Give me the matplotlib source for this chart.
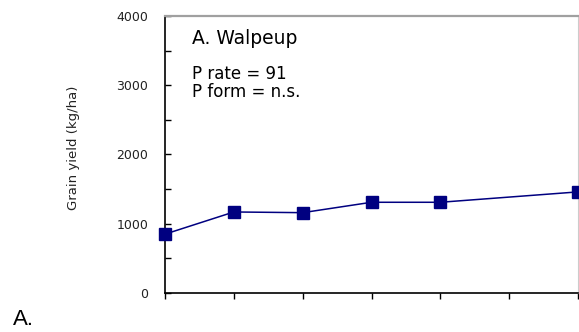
import matplotlib.pyplot as plt
from matplotlib.ticker import MultipleLocator

# P rate (x) and grain yield (y)
p_rate = [0, 10, 20, 30, 40, 60]
grain_yield = [850, 1170, 1160, 1310, 1310, 1460]
y_ticks = [0, 1000, 2000, 3000, 4000]
x_ticks = [0, 10, 20, 30, 40, 50, 60]

navy = '#000080'

fig = plt.figure(figsize=(5.79, 3.32), dpi=100)
ax = fig.add_axes([0.2850, 0.1175, 0.7133, 0.8343])

ax.plot(p_rate, grain_yield, color=navy, linewidth=1.1,
        marker='s', markersize=8, markerfacecolor=navy,
        markeredgecolor=navy, clip_on=False, zorder=3)

ax.set_xlim(0, 60)
ax.set_ylim(0, 4000)
ax.set_xticks(x_ticks)
ax.set_xticklabels([])
ax.set_yticks(y_ticks)
ax.set_yticklabels([str(v) for v in y_ticks])
ax.yaxis.set_minor_locator(MultipleLocator(500))

ax.tick_params(axis='y', which='both', direction='in', length=4, width=1,
               pad=12, labelsize=9, labelcolor='#222222')
ax.tick_params(axis='x', which='both', direction='out', length=4, width=1)

for side in ['left', 'bottom']:
    ax.spines[side].set_color('black')
    ax.spines[side].set_linewidth(1.2)
ax.spines['top'].set_color('#a0a0a0')
ax.spines['top'].set_linewidth(1.6)
ax.spines['right'].set_color('#cccccc')
ax.spines['right'].set_linewidth(0.8)

ax.text(0.065, 0.899, 'A. Walpeup', transform=ax.transAxes,
        fontsize=13.5, va='baseline', ha='left')
ax.text(0.065, 0.7726, 'P rate = 91', transform=ax.transAxes,
        fontsize=12, va='baseline', ha='left')
ax.text(0.065, 0.7076, 'P form = n.s.', transform=ax.transAxes,
        fontsize=12, va='baseline', ha='left')

fig.text(73 / 579, 0.554, 'Grain yield (kg/ha)', rotation=90,
         ha='center', va='center', fontsize=9.5, color='#222222')
fig.text(13 / 579, 0.021, 'A.', fontsize=16, family='Liberation Sans',
         ha='left', va='baseline')

fig.savefig('out.png', dpi=100)
